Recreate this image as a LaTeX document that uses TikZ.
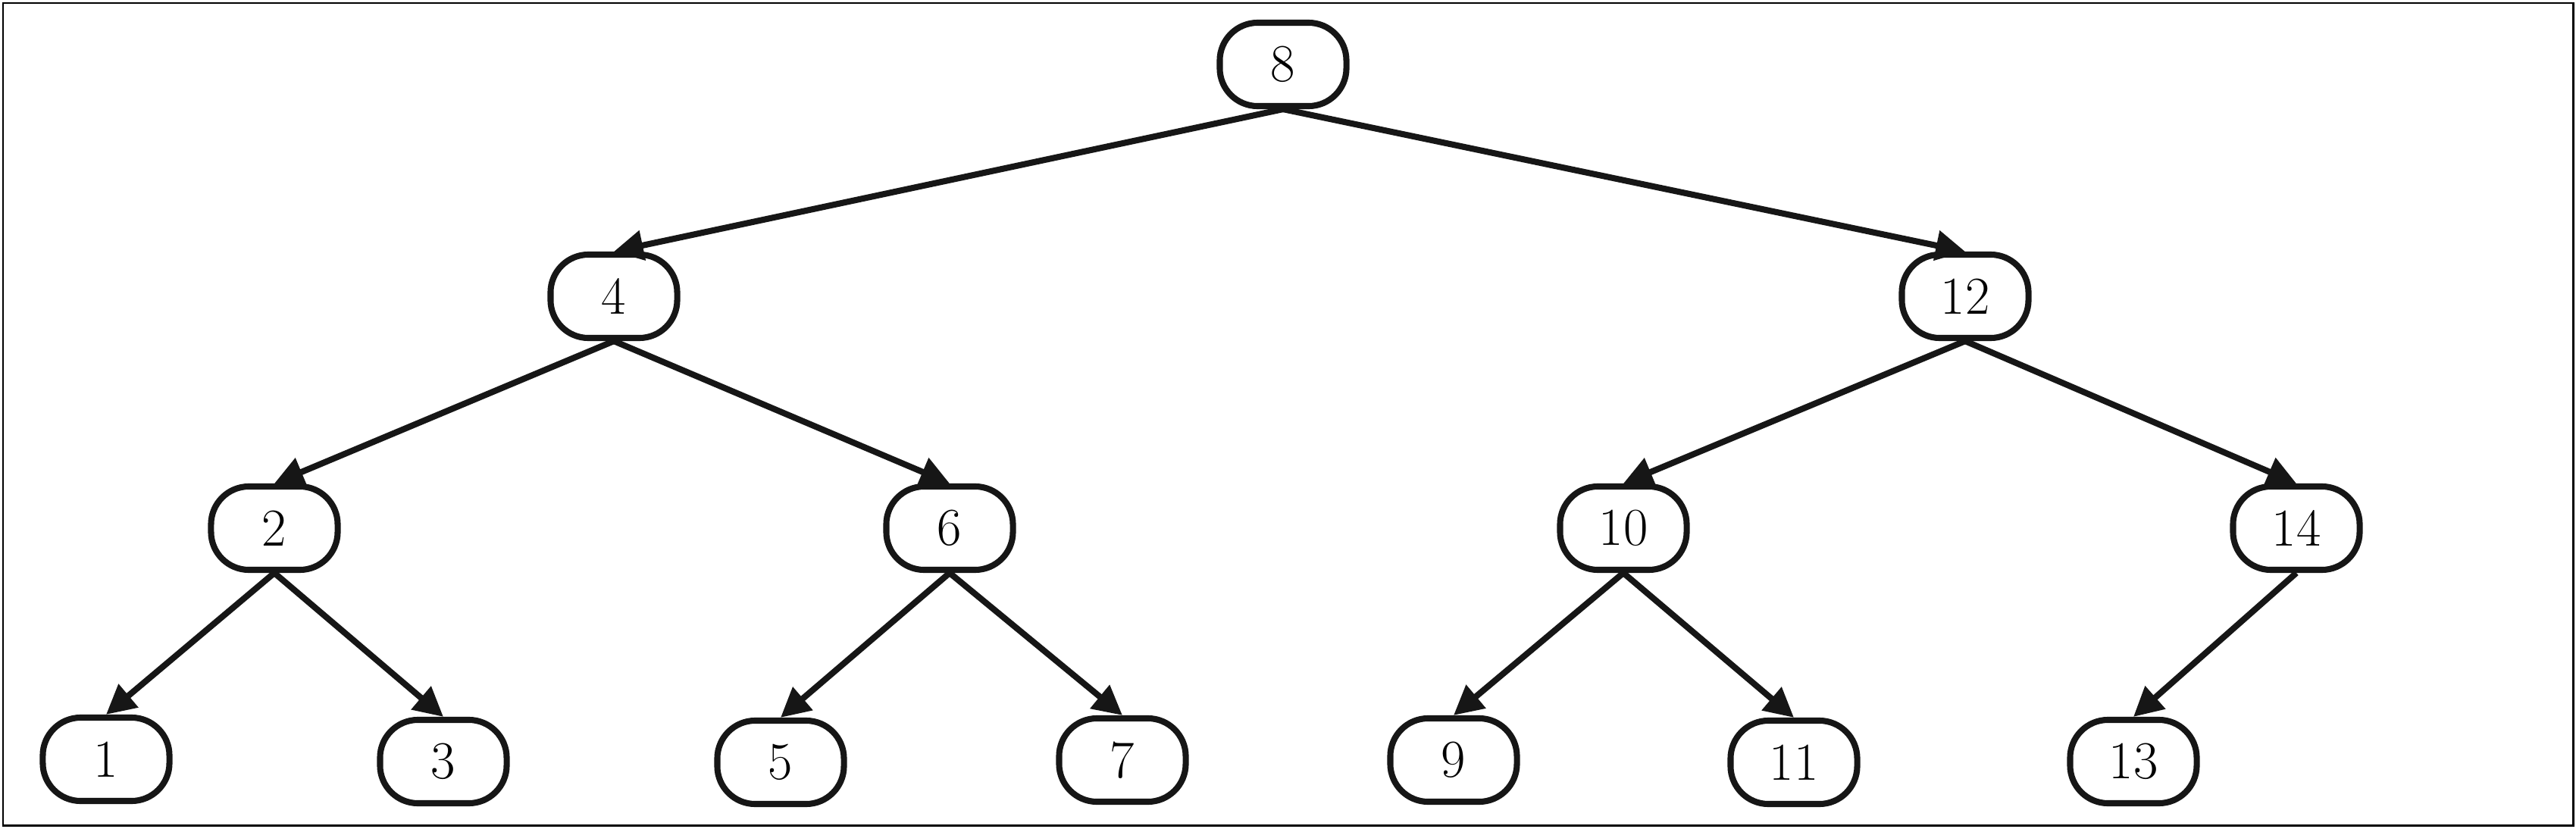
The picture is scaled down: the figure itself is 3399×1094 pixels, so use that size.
\documentclass[tikz,border=0pt]{standalone}
\usepackage{tikz}
\usepackage{xcolor}
\usetikzlibrary{arrows.meta}

\definecolor{ink}{RGB}{22,22,22}

\begin{document}
\begin{tikzpicture}[x=0.01cm, y=-0.01cm,
  key/.style={draw=ink, line width=2.3pt, rounded corners=0.5cm,
    minimum width=1.67cm, minimum height=1.1cm, inner sep=0pt,
    font=\fontsize{20}{24}\selectfont},
  link/.style={draw=ink, line width=2.3pt,
    -{Triangle[length=11pt,width=11pt]}}]
  \useasboundingbox (0,0) rectangle (3399,1094);
  \draw[line width=0.85pt] (4,4) rectangle (3395,1089);

  % levels of the search tree
  \node (n8) [key] at (1693,85) {8};
  \node (n4) [key] at (810,391) {4};
  \node (n12) [key] at (2593,391) {12};
  \node (n2) [key] at (362,697) {2};
  \node (n6) [key] at (1253,697) {6};
  \node (n10) [key] at (2142,697) {10};
  \node (n14) [key] at (3030,697) {14};
  \node (n1) [key] at (140,1002) {1};
  \node (n3) [key] at (585,1005) {3};
  \node (n5) [key] at (1030,1006) {5};
  \node (n7) [key] at (1481,1003) {7};
  \node (n9) [key] at (1918,1003) {9};
  \node (n11) [key] at (2367,1006) {11};
  \node (n13) [key] at (2815,1005) {13};

  \draw[link] (n8.south) -- (n4.north);
  \draw[link] (n8.south) -- (n12.north);
  \draw[link] (n4.south) -- (n2.north);
  \draw[link] (n4.south) -- (n6.north);
  \draw[link] (n12.south) -- (n10.north);
  \draw[link] (n12.south) -- (n14.north);
  \draw[link] (n2.south) -- (n1.north);
  \draw[link] (n2.south) -- (n3.north);
  \draw[link] (n6.south) -- (n5.north);
  \draw[link] (n6.south) -- (n7.north);
  \draw[link] (n10.south) -- (n9.north);
  \draw[link] (n10.south) -- (n11.north);
  \draw[link] (n14.south) -- (n13.north);
\end{tikzpicture}
\end{document}
